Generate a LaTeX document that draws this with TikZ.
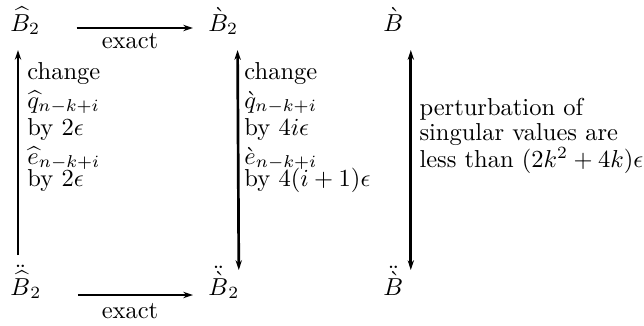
\documentclass[tikz,border=0pt]{standalone}
\usetikzlibrary{arrows.meta,calc}
\begin{document}
\begin{tikzpicture}[x=0.408pt,y=-0.408pt,
  mnode/.style={anchor=base west,inner sep=0pt},
  lbl/.style={anchor=base west,inner sep=0pt},
  arr/.style={line width=1pt,-{Stealth[length=4pt,width=2.6pt]}},
  darr/.style={line width=1.1pt,{Stealth[length=4pt,width=2.6pt]}-{Stealth[length=4pt,width=2.6pt]}}]
\useasboundingbox (0,0) rectangle (644,325);
% corner nodes
\node[mnode] (Bh)  at (10,31)  {$\widehat{B}_2$};
\node[mnode] (Bg)  at (208,31) {$\grave{B}_2$};
\node[mnode] (B)   at (383,31) {$\grave{B}$};
\node[mnode] (Bhd) at (10,295) {$\ddot{\widehat{B}}_2$};
\node[mnode] (Bgd) at (208,295) {$\ddot{\grave{B}}_2$};
\node[mnode] (Bd)  at (383,295) {$\ddot{\grave{B}}$};
% horizontal arrows
\draw[arr] ($(Bh.base east)+(36,-3)$) -- ($(Bg.base west)+(-15,-3)$);
\node[anchor=base,inner sep=0pt] (ex1) at (130,48) {exact};
\draw[arr] ($(Bhd.base east)+(36,0)$) -- ($(Bgd.base west)+(-15,0)$);
\node[anchor=base,inner sep=0pt] (ex2) at (130,318) {exact};
% vertical arrows
\draw[arr] ($(Bhd.base west)+(8,-40)$) -- ($(Bh.base west)+(8,19)$);
\draw[darr] ($(Bg.base east)+(-1,19)$) -- ($(Bgd.base east)+(-1,-25)$);
\draw[darr] ($(B.base east)+(7,19)$) -- ($(Bd.base east)+(7,-25)$);
% left labels
\node[lbl] (l1) at (27,79)  {change};
\node[lbl] (l2) at (27,108) {$\widehat{q}_{n-k+i}$};
\node[lbl] (l3) at (27,135) {by $2\epsilon$};
\node[lbl] (l4) at (27,164) {$\widehat{e}_{n-k+i}$};
\node[lbl] (l5) at (27,186) {by $2\epsilon$};
% middle labels
\node[lbl] (m1) at (244,79)  {change};
\node[lbl] (m2) at (244,108) {$\grave{q}_{n-k+i}$};
\node[lbl] (m3) at (244,135) {by $4i\epsilon$};
\node[lbl] (m4) at (244,164) {$\grave{e}_{n-k+i}$};
\node[lbl] (m5) at (244,186) {by $4(i+1)\epsilon$};
% right labels
\node[lbl] (r1) at (419,115) {perturbation of};
\node[lbl] (r2) at (419,140) {singular values are};
\node[lbl] (r3) at (419,167) {less than $(2k^2+4k)\epsilon$};
\end{tikzpicture}
\end{document}
